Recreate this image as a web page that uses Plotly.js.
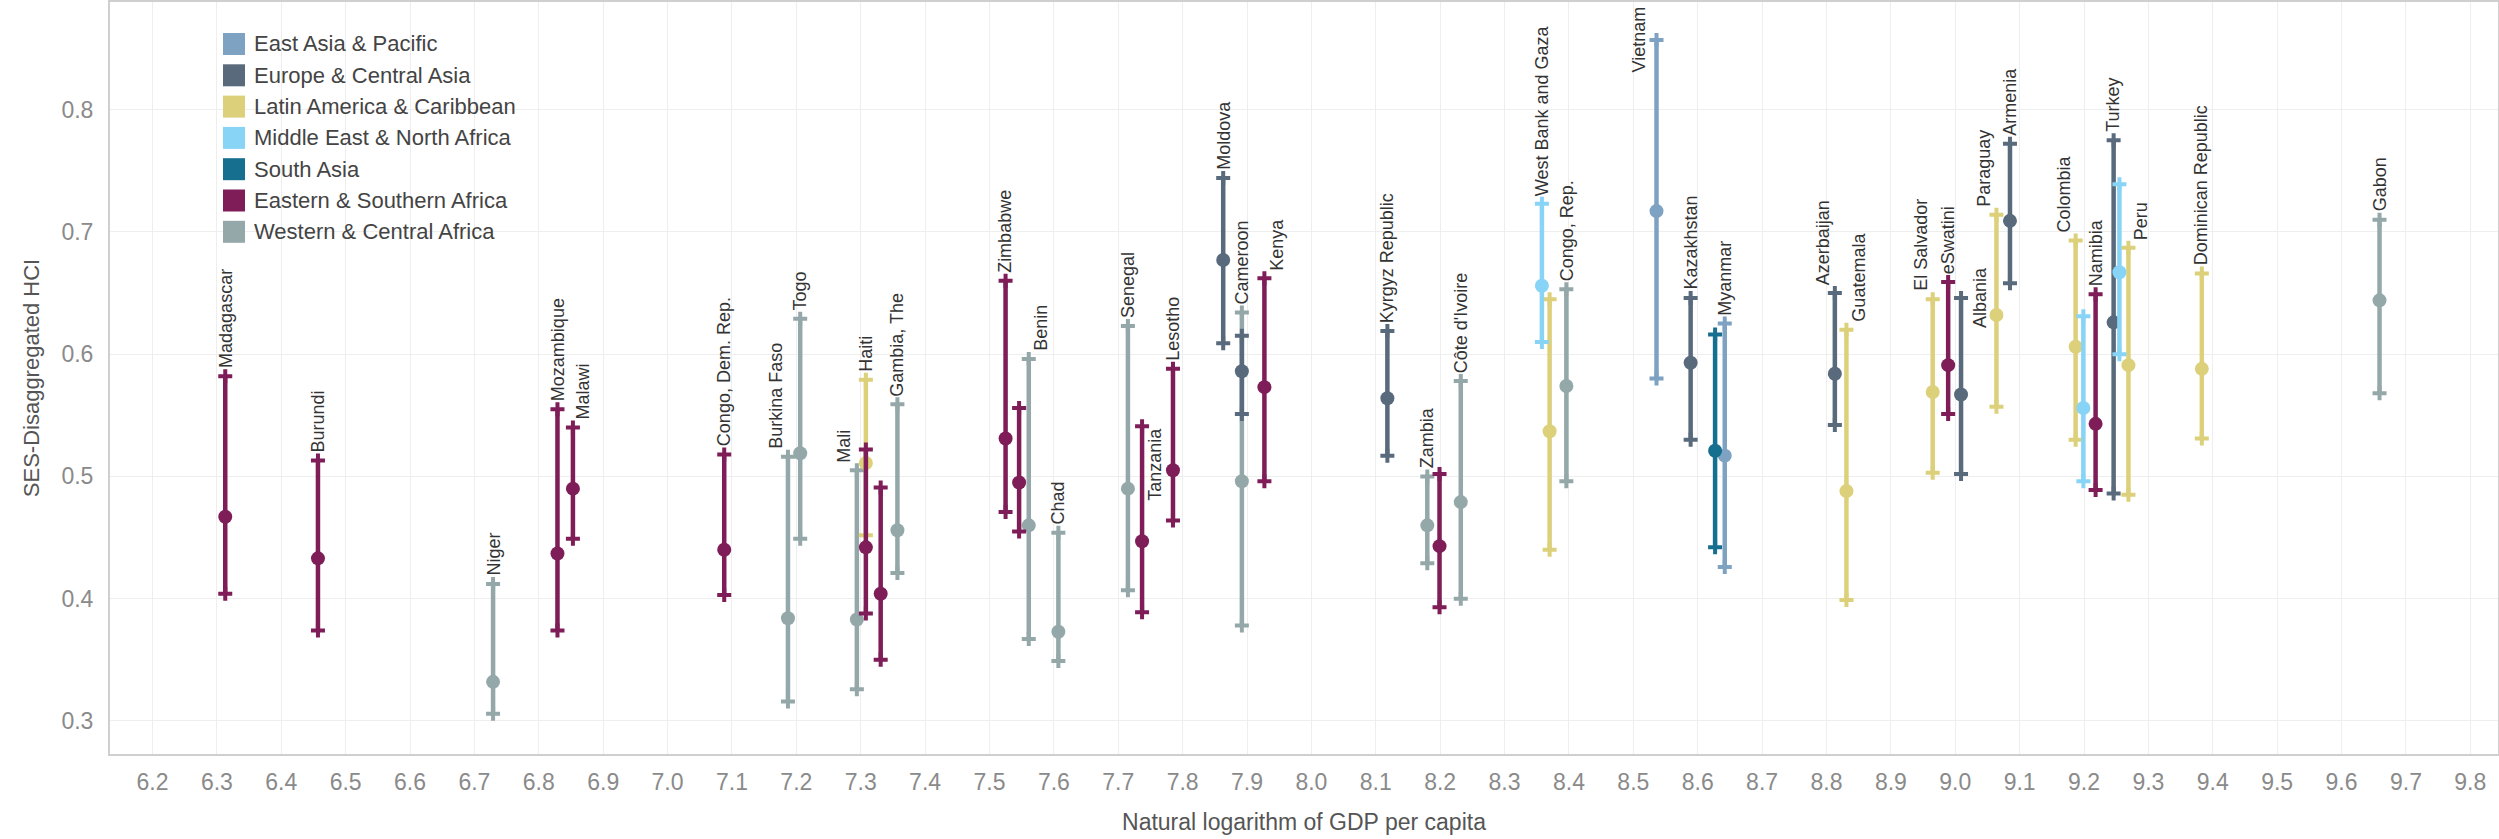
<!DOCTYPE html>
<html>
<head>
<meta charset="utf-8">
<script src="https://cdn.plot.ly/plotly-3.0.1.min.js"></script>
<style>
  html, body { margin: 0; padding: 0; background: #ffffff; }
  #chart { width: 2499px; height: 839px; }
</style>
</head>
<body>
<div id="chart"></div>
<script>
// Regions (legend order), short codes and colours
const regions = [
  'East Asia & Pacific',
  'Europe & Central Asia',
  'Latin America & Caribbean',
  'Middle East & North Africa',
  'South Asia',
  'Eastern & Southern Africa',
  'Western & Central Africa'
];
const regionCodes = ['EAP', 'ECA', 'LAC', 'MENA', 'SA', 'ESA', 'WCA'];
const regionColors = ['#7ea2c2', '#586a7c', '#ddd07a', '#87d4f6', '#176f90', '#7e1d58', '#95a8a9'];

// Countries ('' = not labelled)
const countries = [
  'Madagascar', 'Burundi', 'Niger', 'Mozambique', 'Malawi', 'Congo, Dem. Rep.',
  'Burkina Faso', 'Togo', 'Mali', 'Haiti', '', '', 'Gambia, The',
  'Zimbabwe', '', 'Benin', 'Chad', 'Senegal', 'Tanzania', 'Lesotho',
  'Moldova', '', 'Cameroon', 'Kenya', 'Kyrgyz Republic', 'Zambia', '',
  "Côte d'Ivoire", 'West Bank and Gaza', '', 'Congo, Rep.', 'Vietnam',
  'Kazakhstan', '', 'Myanmar', 'Azerbaijan', 'Guatemala', 'El Salvador',
  'eSwatini', 'Albania', 'Paraguay', 'Armenia', 'Colombia', '', 'Namibia',
  'Turkey', '', 'Peru', 'Dominican Republic', 'Gabon'
];
const countryRegion = [
  'ESA', 'ESA', 'WCA', 'ESA', 'ESA', 'ESA',
  'WCA', 'WCA', 'WCA', 'LAC', 'ESA', 'ESA', 'WCA',
  'ESA', 'ESA', 'WCA', 'WCA', 'WCA', 'ESA', 'ESA',
  'ECA', 'ECA', 'WCA', 'ESA', 'ECA', 'WCA', 'ESA',
  'WCA', 'MENA', 'LAC', 'WCA', 'EAP',
  'ECA', 'SA', 'EAP', 'ECA', 'LAC', 'LAC',
  'ESA', 'ECA', 'LAC', 'ECA', 'LAC', 'MENA', 'ESA',
  'ECA', 'MENA', 'LAC', 'LAC', 'WCA'
];
// Natural logarithm of GDP per capita
const gdpLog = [
  6.313, 6.457, 6.729, 6.829, 6.853, 7.088,
  7.187, 7.206, 7.294, 7.308, 7.308, 7.331, 7.357,
  7.525, 7.546, 7.561, 7.607, 7.715, 7.737, 7.785,
  7.863, 7.892, 7.892, 7.927, 8.118, 8.180, 8.199,
  8.232, 8.358, 8.370, 8.396, 8.536,
  8.589, 8.627, 8.642, 8.813, 8.831, 8.965,
  8.989, 9.009, 9.064, 9.085, 9.187, 9.199, 9.218,
  9.246, 9.255, 9.269, 9.383, 9.659
];
// SES-disaggregated HCI: average, lowest and highest quintile
const hciMean = [
  0.467, 0.433, 0.332, 0.437, 0.490, 0.440,
  0.384, 0.519, 0.383, 0.511, 0.442, 0.404, 0.456,
  0.531, 0.495, 0.460, 0.373, 0.490, 0.447, 0.505,
  0.677, 0.586, 0.496, 0.573, 0.564, 0.460, 0.443,
  0.479, 0.656, 0.537, 0.574, 0.717,
  0.593, 0.521, 0.517, 0.584, 0.488, 0.569,
  0.591, 0.567, 0.632, 0.709, 0.606, 0.556, 0.543,
  0.626, 0.667, 0.591, 0.588, 0.644
];
const hciLow = [
  0.404, 0.374, 0.306, 0.374, 0.449, 0.403,
  0.316, 0.449, 0.326, 0.452, 0.388, 0.350, 0.421,
  0.471, 0.455, 0.367, 0.349, 0.407, 0.389, 0.464,
  0.609, 0.551, 0.378, 0.496, 0.517, 0.429, 0.393,
  0.400, 0.610, 0.440, 0.496, 0.580,
  0.530, 0.442, 0.426, 0.542, 0.399, 0.503,
  0.551, 0.502, 0.557, 0.658, 0.530, 0.496, 0.489,
  0.486, 0.600, 0.485, 0.531, 0.568
];
const hciHigh = [
  0.582, 0.513, 0.412, 0.555, 0.540, 0.518,
  0.516, 0.629, 0.505, 0.579, 0.522, 0.491, 0.559,
  0.660, 0.556, 0.596, 0.454, 0.623, 0.541, 0.588,
  0.744, 0.615, 0.634, 0.662, 0.619, 0.500, 0.502,
  0.578, 0.723, 0.645, 0.653, 0.857,
  0.646, 0.616, 0.625, 0.650, 0.620, 0.645,
  0.659, 0.646, 0.714, 0.772, 0.693, 0.631, 0.649,
  0.775, 0.739, 0.687, 0.666, 0.710
];

// Axis ticks
const xTickVals = [6.2, 6.3, 6.4, 6.5, 6.6, 6.7, 6.8, 6.9, 7.0, 7.1, 7.2, 7.3, 7.4, 7.5, 7.6, 7.7,
  7.8, 7.9, 8.0, 8.1, 8.2, 8.3, 8.4, 8.5, 8.6, 8.7, 8.8, 8.9, 9.0, 9.1, 9.2, 9.3, 9.4, 9.5,
  9.6, 9.7, 9.8];
const yTickVals = [0.3, 0.4, 0.5, 0.6, 0.7, 0.8];

// ---- drawing ----
const FONT = 'Liberation Sans, Arial, sans-serif';
const W = 2499, H = 839;
const M = { l: 110, r: 1, t: 2, b: 85 };
const plotW = W - M.l - M.r, plotH = H - M.t - M.b;
const px2paperX = px => (px - M.l) / plotW;
const px2paperY = py => 1 - (py - M.t) / plotH;

// Label placement tweaks where labels would collide (pixel offsets)
const labelPlacement = {
  'Malawi': { dx: 10 },
  'Burkina Faso': { dx: -12 },
  'Mali': { dx: -13 },
  'Benin': { dx: 12 },
  'Tanzania': { dx: 13, anchor: 'top' },
  'Kenya': { dx: 13 },
  'Vietnam': { dx: -18, anchor: 'middle' },
  'Azerbaijan': { dx: -12 },
  'Guatemala': { dx: 13 },
  'El Salvador': { dx: -12 },
  'Albania': { dx: 19, anchor: 'middle' },
  'Paraguay': { dx: -12 },
  'Colombia': { dx: -12 },
  'Peru': { dx: 12 }
};

const drawOrder = ['WCA', 'LAC', 'ECA', 'MENA', 'EAP', 'SA', 'ESA'];
const traces = [];
drawOrder.forEach(code => {
  const color = regionColors[regionCodes.indexOf(code)];
  const idx = countryRegion.map((r, i) => r === code ? i : -1).filter(i => i >= 0);
  const lx = [], ly = [], ex = [], ey = [];
  idx.forEach(i => {
    lx.push(gdpLog[i], gdpLog[i], null);
    ly.push(hciLow[i], hciHigh[i], null);
    ex.push(gdpLog[i], gdpLog[i]);
    ey.push(hciLow[i], hciHigh[i]);
  });
  traces.push({
    type: 'scatter', mode: 'lines', x: lx, y: ly,
    line: { color: color, width: 4.5 }, hoverinfo: 'skip', showlegend: false
  });
  traces.push({
    type: 'scatter', mode: 'markers', x: ex, y: ey,
    marker: { symbol: 'cross-thin', size: 10, color: color, line: { color: color, width: 4 } },
    hoverinfo: 'skip', showlegend: false
  });
  traces.push({
    type: 'scatter', mode: 'markers',
    x: idx.map(i => gdpLog[i]), y: idx.map(i => hciMean[i]),
    text: idx.map(i => countries[i]),
    marker: { symbol: 'circle', size: 14, color: color },
    hovertemplate: '%{text}<br>%{x:.2f}, %{y:.3f}<extra></extra>',
    showlegend: false
  });
});

// Country labels, rotated, sitting on top of each range
const annotations = [];
countries.forEach((name, i) => {
  if (!name) return;
  const p = labelPlacement[name] || {};
  const anchor = p.anchor || 'bottom';
  annotations.push({
    x: gdpLog[i], y: hciHigh[i], xref: 'x', yref: 'y',
    text: name, textangle: -90, showarrow: false,
    xanchor: 'center', yanchor: anchor,
    xshift: p.dx || 0, yshift: anchor === 'bottom' ? 6 : 0,
    font: { family: FONT, size: 18, color: '#333333' }
  });
});

// Colour legend (swatches + names)
const shapes = [];
const legLeft = 223, legTop = 33, legRow = 31.3, sw = 22;
regions.forEach((name, k) => {
  const cy = legTop + sw / 2 + k * legRow;
  shapes.push({
    type: 'rect', xref: 'paper', yref: 'paper',
    x0: px2paperX(legLeft), x1: px2paperX(legLeft + sw),
    y0: px2paperY(cy - sw / 2), y1: px2paperY(cy + sw / 2),
    fillcolor: regionColors[k], line: { width: 0 }
  });
  annotations.push({
    xref: 'paper', yref: 'paper',
    x: px2paperX(legLeft + sw + 7), y: px2paperY(cy),
    xanchor: 'left', yanchor: 'middle', showarrow: false,
    text: name, font: { family: FONT, size: 22, color: '#444444' }
  });
});

const layout = {
  width: W, height: H,
  margin: M,
  paper_bgcolor: '#ffffff', plot_bgcolor: '#ffffff',
  showlegend: false,
  font: { family: FONT },
  xaxis: {
    range: [6.134, 9.843],
    tickmode: 'array', tickvals: xTickVals,
    ticktext: xTickVals.map(v => v.toFixed(1)),
    ticks: '', ticklabelstandoff: 6,
    tickfont: { family: FONT, size: 23, color: '#8a8a8a' },
    showgrid: true, gridcolor: '#eeeeee', gridwidth: 1,
    zeroline: false,
    showline: true, linecolor: '#cfcfcf', linewidth: 2, mirror: true,
    title: { text: 'Natural logarithm of GDP per capita', standoff: 20,
      font: { family: FONT, size: 23, color: '#555555' } }
  },
  yaxis: {
    range: [0.273, 0.888],
    tickmode: 'array', tickvals: yTickVals,
    ticktext: yTickVals.map(v => v.toFixed(1)),
    ticks: '', ticklabelstandoff: 10,
    tickfont: { family: FONT, size: 23, color: '#8a8a8a' },
    showgrid: true, gridcolor: '#eeeeee', gridwidth: 1,
    zeroline: false,
    showline: true, linecolor: '#cfcfcf', linewidth: 2, mirror: true,
    title: { text: 'SES-Disaggregated HCI', standoff: 16,
      font: { family: FONT, size: 22, color: '#555555' } }
  },
  shapes: shapes,
  annotations: annotations
};

Plotly.newPlot('chart', traces, layout, { displayModeBar: false, staticPlot: true });
</script>
</body>
</html>
